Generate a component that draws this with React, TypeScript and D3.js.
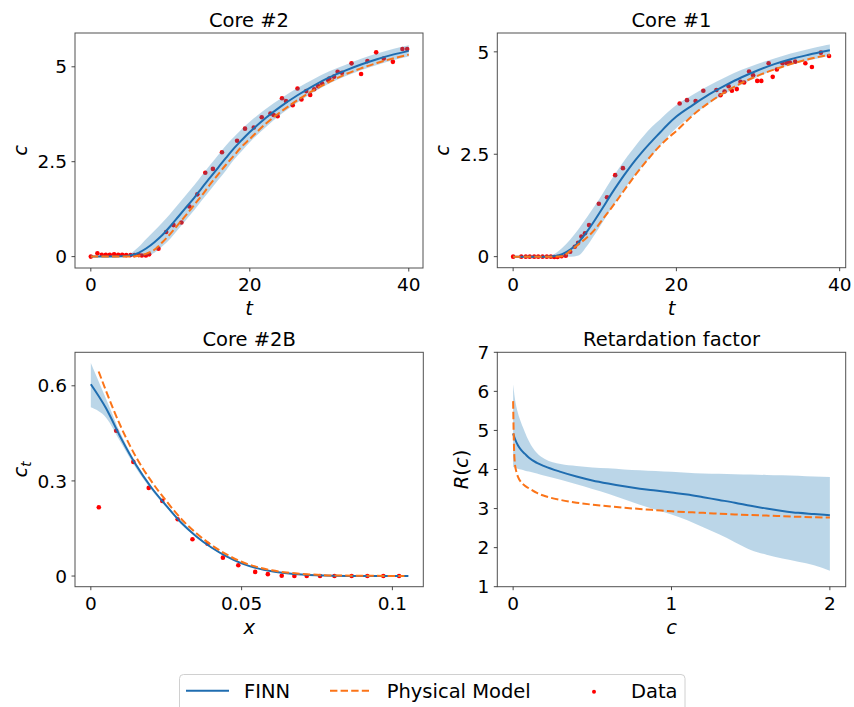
import React from 'react';
import * as d3 from 'd3';

// ---------------- Core #2 ----------------
const core2DataT = [0, 0.83, 1.38, 1.89, 2.39, 2.93, 3.44, 3.94, 4.45, 4.99, 5.49, 6.04, 6.42, 6.93, 7.34, 8.51, 9.48, 10.4, 11.4, 12.4, 13.4, 14.4, 15.36, 16.5, 18.4, 19.4, 20.5, 21.5, 22.6, 23.0, 23.5, 24.05, 24.55, 25.4, 26.0, 26.5, 27.1, 27.6, 28.1, 28.6, 29.1, 29.85, 30.0, 30.6, 31.05, 31.6, 32.8, 34.0, 34.8, 35.9, 36.85, 38.0, 39.2, 39.8];
const core2DataC = [0, 0.09, 0.05, 0.05, 0.05, 0.06, 0.05, 0.05, 0.04, 0.04, 0.04, 0.04, 0.03, 0.03, 0.06, 0.21, 0.65, 0.83, 0.9, 1.32, 1.64, 2.21, 2.31, 2.75, 3.05, 3.37, 3.4, 3.67, 3.77, 3.73, 3.7, 4.17, 4.1, 3.99, 4.43, 4.14, 4.36, 4.26, 4.41, 4.49, 4.56, 4.65, 4.69, 4.74, 4.87, 4.84, 5.09, 4.81, 5.15, 5.38, 5.22, 5.13, 5.47, 5.47];
const core2CurveT = [0, 2, 4, 5, 6, 7, 8, 9, 10, 11, 12, 13, 14, 15, 16, 17, 18, 19, 20, 22, 24, 26, 28, 30, 32, 34, 36, 38, 40];
const core2Finn = [0, 0, 0.01, 0.03, 0.1, 0.22, 0.38, 0.57, 0.8, 1.05, 1.3, 1.55, 1.82, 2.08, 2.34, 2.6, 2.85, 3.07, 3.28, 3.65, 3.97, 4.25, 4.5, 4.72, 4.9, 5.06, 5.2, 5.32, 5.42];
const core2Upper = [0, 0, 0.01, 0.08, 0.25, 0.47, 0.68, 0.9, 1.13, 1.38, 1.63, 1.88, 2.15, 2.41, 2.67, 2.93, 3.15, 3.36, 3.55, 3.89, 4.18, 4.44, 4.67, 4.88, 5.05, 5.21, 5.35, 5.47, 5.57];
const core2Lower = [0, 0, 0.01, 0, 0, 0.02, 0.1, 0.27, 0.47, 0.72, 0.97, 1.22, 1.49, 1.75, 2.01, 2.27, 2.55, 2.78, 3.01, 3.41, 3.76, 4.06, 4.33, 4.56, 4.75, 4.91, 5.05, 5.17, 5.27];
const core2Phys = [0, 0, 0, 0, 0.02, 0.08, 0.18, 0.38, 0.6, 0.85, 1.1, 1.36, 1.62, 1.9, 2.16, 2.42, 2.66, 2.9, 3.1, 3.5, 3.83, 4.12, 4.38, 4.6, 4.8, 4.96, 5.1, 5.22, 5.32];

// ---------------- Core #1 ----------------
const core1DataT = [0, 1.0, 1.55, 2.04, 2.58, 3.07, 3.6, 4.13, 4.62, 5.04, 5.44, 5.93, 6.45, 6.99, 7.55, 7.96, 8.36, 8.8, 9.3, 10.5, 11.5, 12.5, 13.45, 20.4, 21.3, 22.35, 23.3, 24.9, 25.4, 25.9, 26.4, 26.8, 27.4, 27.85, 28.3, 28.9, 29.4, 29.9, 30.4, 31.3, 31.8, 32.3, 33.0, 33.5, 33.9, 34.55, 35.8, 36.6, 37.7, 38.7];
const core1DataC = [0, 0, 0, 0, 0, 0, 0, 0, 0, -0.01, -0.01, 0.01, 0.02, 0.12, 0.24, 0.34, 0.49, 0.57, 0.77, 1.29, 1.45, 1.99, 2.16, 3.74, 3.82, 3.8, 4.05, 4.07, 3.94, 4.03, 4.16, 4.05, 4.09, 4.27, 4.25, 4.52, 4.43, 4.29, 4.29, 4.72, 4.39, 4.57, 4.72, 4.73, 4.74, 4.76, 4.72, 4.63, 4.98, 4.9];
const core1CurveT = [0, 2, 4, 5, 6, 7, 8, 9, 10, 11, 12, 13, 14, 15, 16, 17, 18, 19, 20, 22, 24, 26, 28, 30, 32, 34, 36, 38, 38.8];
const core1Finn = [0, 0, 0, 0.01, 0.06, 0.17, 0.35, 0.6, 0.89, 1.2, 1.52, 1.82, 2.1, 2.36, 2.6, 2.82, 3.03, 3.24, 3.42, 3.7, 3.96, 4.18, 4.38, 4.55, 4.7, 4.82, 4.92, 5.01, 5.04];
const core1Upper = [0, 0, 0, 0.06, 0.21, 0.42, 0.67, 0.95, 1.24, 1.55, 1.87, 2.17, 2.45, 2.71, 2.95, 3.17, 3.35, 3.54, 3.7, 3.95, 4.18, 4.38, 4.56, 4.71, 4.84, 4.96, 5.06, 5.15, 5.18];
const core1Lower = [0, 0, 0, 0, 0, 0, 0.03, 0.25, 0.54, 0.85, 1.17, 1.47, 1.75, 2.01, 2.25, 2.47, 2.71, 2.94, 3.14, 3.45, 3.74, 3.98, 4.2, 4.39, 4.56, 4.68, 4.78, 4.87, 4.9];
const core1Phys = [0, 0, 0, 0, 0.01, 0.14, 0.3, 0.46, 0.66, 0.92, 1.18, 1.45, 1.73, 2.0, 2.25, 2.49, 2.71, 2.9, 3.07, 3.45, 3.76, 4.02, 4.24, 4.42, 4.57, 4.7, 4.81, 4.9, 4.93];

// ---------------- Core #2B ----------------
const core2bDataX = [0.00265, 0.0084, 0.0141, 0.0192, 0.0237, 0.0288, 0.0337, 0.0387, 0.0438, 0.0489, 0.0545, 0.0587, 0.0633, 0.0675, 0.0716, 0.076, 0.0808, 0.0865, 0.0917, 0.097, 0.1022];
const core2bDataC = [0.217, 0.458, 0.36, 0.278, 0.237, 0.179, 0.116, 0.102, 0.058, 0.034, 0.013, 0.006, 0.001, 0, 0, 0, 0, 0, 0, 0, 0];
const core2bCurveX = [0, 0.005, 0.01, 0.015, 0.02, 0.025, 0.03, 0.035, 0.04, 0.045, 0.05, 0.055, 0.06, 0.065, 0.07, 0.08, 0.09, 0.1053];
const core2bFinn = [0.605, 0.53, 0.435, 0.35, 0.28, 0.222, 0.168, 0.125, 0.09, 0.062, 0.04, 0.025, 0.015, 0.009, 0.005, 0.001, 0, 0];
const core2bUpper = [0.672, 0.56, 0.447, 0.357, 0.285, 0.226, 0.171, 0.127, 0.092, 0.063, 0.041, 0.026, 0.016, 0.01, 0.006, 0.002, 0.001, 0.001];
const core2bLower = [0.532, 0.5, 0.42, 0.34, 0.273, 0.217, 0.164, 0.122, 0.088, 0.06, 0.039, 0.024, 0.014, 0.008, 0.004, 0, 0, 0];
const core2bPhysX = [0.0026, 0.005, 0.01, 0.015, 0.02, 0.025, 0.03, 0.035, 0.04, 0.045, 0.05, 0.055, 0.06, 0.065, 0.07, 0.08, 0.09, 0.104];
const core2bPhys = [0.645, 0.585, 0.47, 0.375, 0.3, 0.237, 0.18, 0.135, 0.098, 0.068, 0.045, 0.029, 0.018, 0.011, 0.007, 0.002, 0.001, 0];

// ---------------- Retardation factor ----------------
const retC = [0, 0.01, 0.03, 0.05, 0.075, 0.1, 0.15, 0.2, 0.3, 0.4, 0.5, 0.6, 0.7, 0.8, 0.9, 1.0, 1.1, 1.2, 1.3, 1.4, 1.5, 1.6, 1.7, 1.8, 1.9, 2.0];
const retFinn = [4.92, 4.8, 4.62, 4.5, 4.4, 4.3, 4.17, 4.08, 3.94, 3.82, 3.72, 3.64, 3.57, 3.51, 3.46, 3.41, 3.36, 3.29, 3.22, 3.15, 3.07, 3.0, 2.94, 2.89, 2.86, 2.83];
const retUpper = [6.18, 5.85, 5.45, 5.2, 4.95, 4.72, 4.42, 4.27, 4.14, 4.09, 4.05, 4.03, 4.0, 3.98, 3.96, 3.94, 3.92, 3.9, 3.89, 3.88, 3.87, 3.86, 3.85, 3.84, 3.82, 3.81];
const retLower = [4.07, 4.05, 4.02, 4.0, 3.97, 3.95, 3.9, 3.84, 3.74, 3.62, 3.5, 3.38, 3.24, 3.1, 2.97, 2.85, 2.7, 2.52, 2.34, 2.14, 1.94, 1.82, 1.72, 1.64, 1.55, 1.41];
const retPhysC = [0, 0.003, 0.006, 0.01, 0.02, 0.03, 0.05, 0.075, 0.1, 0.15, 0.2, 0.3, 0.4, 0.5, 0.6, 0.7, 0.8, 0.9, 1.0, 1.2, 1.4, 1.6, 1.8, 2.0];
const retPhys = [5.75, 5.0, 4.5, 4.2, 3.95, 3.82, 3.68, 3.58, 3.52, 3.4, 3.32, 3.22, 3.15, 3.1, 3.06, 3.02, 2.99, 2.96, 2.93, 2.89, 2.85, 2.82, 2.79, 2.77];

const legendLabels = ['FINN', 'Physical Model', 'Data'];

const BLUE = '#1f6db0';
const BAND = '#1f77b4';
const ORANGE = '#fb7418';
const RED = '#ff0000';
const FONT = 'DejaVu Sans';
const TICK_FS = 18.5;
const TITLE_FS = 19.5;

type Series = { x: number[]; y: number[] };
type PanelCfg = {
  left: number; right: number; top: number; bottom: number;
  xDomain: [number, number]; yDomain: [number, number];
  xTicks: number[]; yTicks: number[];
  title: string;
  xLabel: React.ReactNode; yLabel: React.ReactNode; yLabelX: number;
  bandX: number[]; bandLo: number[]; bandHi: number[];
  finn: Series; phys: Series; data?: Series;
};

const zip = (a: number[], b: number[]) => a.map((v, i) => [v, b[i]] as [number, number]);

function Panel({ cfg }: { cfg: PanelCfg }) {
  const x = d3.scaleLinear().domain(cfg.xDomain).range([cfg.left, cfg.right]);
  const y = d3.scaleLinear().domain(cfg.yDomain).range([cfg.bottom, cfg.top]);
  const line = d3.line<[number, number]>().x(d => x(d[0])).y(d => y(d[1])).curve(d3.curveMonotoneX);
  const area = d3.area<number>()
    .x((_, i) => x(cfg.bandX[i]))
    .y0((_, i) => y(cfg.bandLo[i]))
    .y1((_, i) => y(cfg.bandHi[i]))
    .curve(d3.curveMonotoneX);
  const cx = (cfg.left + cfg.right) / 2;
  const cy = (cfg.top + cfg.bottom) / 2;
  return (
    <g>
      {cfg.data && cfg.data.x.map((v, i) => (
        <circle key={i} cx={x(v)} cy={y(cfg.data!.y[i])} r={2.3} fill={RED} />
      ))}
      <path d={area(cfg.bandX) || ''} fill={BAND} fillOpacity={0.3} stroke="none" />
      <path d={line(zip(cfg.finn.x, cfg.finn.y)) || ''} fill="none" stroke={BLUE} strokeWidth={2} />
      <path d={line(zip(cfg.phys.x, cfg.phys.y)) || ''} fill="none" stroke={ORANGE} strokeWidth={2} strokeDasharray="7.4,3.2" />
      <rect x={cfg.left} y={cfg.top} width={cfg.right - cfg.left} height={cfg.bottom - cfg.top} fill="none" stroke="#505050" strokeWidth={1} />
      {cfg.xTicks.map(t => (
        <g key={'x' + t}>
          <line x1={x(t)} x2={x(t)} y1={cfg.bottom} y2={cfg.bottom + 3.5} stroke="#333" strokeWidth={0.9} />
          <text x={x(t)} y={cfg.bottom + 16.5} dy="0.36em" textAnchor="middle" fontSize={TICK_FS} fontFamily={FONT}>{String(t)}</text>
        </g>
      ))}
      {cfg.yTicks.map(t => (
        <g key={'y' + t}>
          <line x1={cfg.left - 3.5} x2={cfg.left} y1={y(t)} y2={y(t)} stroke="#333" strokeWidth={0.9} />
          <text x={cfg.left - 8} y={y(t)} dy="0.36em" textAnchor="end" fontSize={TICK_FS} fontFamily={FONT}>{String(t)}</text>
        </g>
      ))}
      <text x={cx} y={cfg.top - 6} textAnchor="middle" fontSize={TITLE_FS} fontFamily={FONT}>{cfg.title}</text>
      <text x={cx} y={cfg.bottom + 47} textAnchor="middle" fontSize={TITLE_FS} fontFamily={FONT}>{cfg.xLabel}</text>
      <text transform={`translate(${cfg.yLabelX},${cy}) rotate(-90)`} textAnchor="middle" fontSize={TITLE_FS} fontFamily={FONT}>{cfg.yLabel}</text>
    </g>
  );
}

const it = (s: string) => <tspan fontStyle="italic">{s}</tspan>;

const panels: PanelCfg[] = [
  {
    left: 75, right: 423, top: 33, bottom: 268,
    xDomain: [-1.99, 41.79], yDomain: [-0.3, 5.89],
    xTicks: [0, 20, 40], yTicks: [0, 2.5, 5],
    title: 'Core #2', xLabel: it('t'), yLabel: it('c'), yLabelX: 27,
    bandX: core2CurveT, bandLo: core2Lower, bandHi: core2Upper,
    finn: { x: core2CurveT, y: core2Finn }, phys: { x: core2CurveT, y: core2Phys },
    data: { x: core2DataT, y: core2DataC },
  },
  {
    left: 497.3, right: 845.7, top: 33, bottom: 267.7,
    xDomain: [-1.94, 40.74], yDomain: [-0.27, 5.46],
    xTicks: [0, 20, 40], yTicks: [0, 2.5, 5],
    title: 'Core #1', xLabel: it('t'), yLabel: it('c'), yLabelX: 448.5,
    bandX: core1CurveT, bandLo: core1Lower, bandHi: core1Upper,
    finn: { x: core1CurveT, y: core1Finn }, phys: { x: core1CurveT, y: core1Phys },
    data: { x: core1DataT, y: core1DataC },
  },
  {
    left: 75, right: 423.3, top: 352.3, bottom: 586.7,
    xDomain: [-0.00525, 0.11025], yDomain: [-0.0336, 0.7056],
    xTicks: [0, 0.05, 0.1], yTicks: [0, 0.3, 0.6],
    title: 'Core #2B', xLabel: it('x'),
    yLabel: <>{it('c')}<tspan fontStyle="italic" fontSize={13.5} dy={4}>t</tspan></>,
    yLabelX: 27,
    bandX: core2bCurveX, bandLo: core2bLower, bandHi: core2bUpper,
    finn: { x: core2bCurveX, y: core2bFinn }, phys: { x: core2bPhysX, y: core2bPhys },
    data: { x: core2bDataX, y: core2bDataC },
  },
  {
    left: 497.3, right: 845.7, top: 352.3, bottom: 586.7,
    xDomain: [-0.1, 2.1], yDomain: [1, 7],
    xTicks: [0, 1, 2], yTicks: [1, 2, 3, 4, 5, 6, 7],
    title: 'Retardation factor', xLabel: it('c'),
    yLabel: <>{it('R')}<tspan>(</tspan>{it('c')}<tspan>)</tspan></>,
    yLabelX: 468,
    bandX: retC, bandLo: retLower, bandHi: retUpper,
    finn: { x: retC, y: retFinn }, phys: { x: retPhysC, y: retPhys },
  },
];

export default function App() {
  const ly = 690.7;
  return (
    <div style={{ position: 'absolute', left: 0, top: 0 }}>
      <svg width={854} height={707} style={{ display: 'block', background: '#fff' }}>
        <rect x={0} y={0} width={854} height={707} fill="#fff" />
        {panels.map((p, i) => <Panel key={i} cfg={p} />)}
        <rect x={179.5} y={674.5} width={505.5} height={45} rx={4} fill="#fff" stroke="#d0d0d0" strokeWidth={1} />
        <line x1={186} x2={229} y1={ly} y2={ly} stroke={BLUE} strokeWidth={2} />
        <text x={244} y={ly} dy="0.36em" fontSize={TITLE_FS} fontFamily={FONT}>{legendLabels[0]}</text>
        <line x1={330} x2={369} y1={ly} y2={ly} stroke={ORANGE} strokeWidth={2} strokeDasharray="7.4,3.2" />
        <text x={386.7} y={ly} dy="0.36em" fontSize={TITLE_FS} fontFamily={FONT}>{legendLabels[1]}</text>
        <circle cx={594} cy={ly + 1} r={2} fill={RED} />
        <text x={631} y={ly} dy="0.36em" fontSize={TITLE_FS} fontFamily={FONT}>{legendLabels[2]}</text>
      </svg>
    </div>
  );
}
